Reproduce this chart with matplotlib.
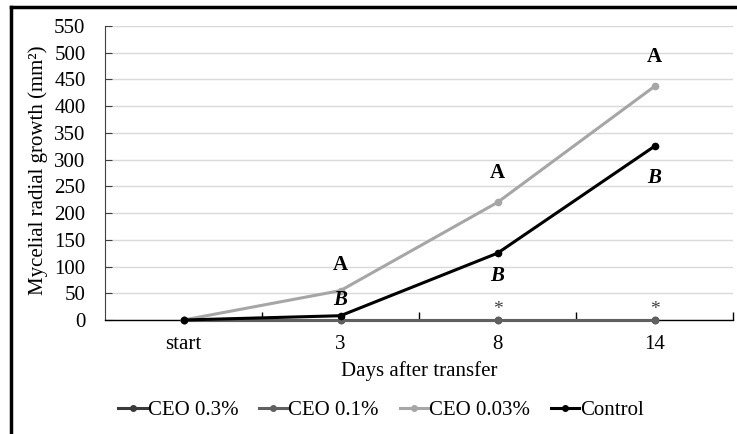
import matplotlib
matplotlib.use("Agg")
import matplotlib.pyplot as plt
from matplotlib.lines import Line2D

plt.rcParams['font.family'] = ['Liberation Serif', 'DejaVu Serif']

categories = ["start", "3", "8", "14"]
ceo_03 = [0, 0, 0, 0]
ceo_01 = [0, 0, 0, 0]
ceo_003 = [0, 55, 220, 437]
control = [0, 8, 125, 325]

series_names = ["CEO 0.3%", "CEO 0.1%", "CEO 0.03%", "Control"]
colors = ["#3a3a3a", "#606060", "#a6a6a6", "#000000"]

# letters: (category index, y value, text, style)
letters = [
    (1, 103, "A", "normal"), (1, 37, "B", "italic"),
    (2, 275, "A", "normal"), (2, 82, "B", "italic"),
    (3, 492, "A", "normal"), (3, 266, "B", "italic"),
]
stars = [(2, 20, "*"), (3, 20, "*")]

FS = 15

fig = plt.figure(figsize=(7.37, 4.34), dpi=100)
ax = fig.add_axes([105/737, 1-320/434, 628/737, 294/434])

x = list(range(len(categories)))
for vals, name, c in zip([ceo_03, ceo_01, ceo_003, control], series_names, colors):
    ax.plot(x, vals, color=c, lw=2.2, marker='o', ms=4.5, label=name, zorder=3,
            clip_on=False)

ax.set_xlim(-0.5, 3.5)
ax.set_ylim(0, 550)
ax.set_yticks(range(0, 551, 50))
ax.set_xticks(x)
ax.set_xticklabels(categories)
ax.set_xticks([0.5, 1.5, 2.5, 3.5], minor=True)
ax.tick_params(axis='x', which='major', length=0, pad=11, labelsize=FS)
ax.tick_params(axis='x', which='minor', length=6, direction='in', color='black', width=1)
ax.tick_params(axis='y', length=5, direction='in', pad=14, labelsize=FS, color='#404040')
ax.grid(axis='y', color='#d9d9d9', lw=1)
ax.set_axisbelow(True)
for s in ['top', 'right']:
    ax.spines[s].set_visible(False)
ax.spines['left'].set_color('#404040')
ax.spines['bottom'].set_color('black')
ax.spines['bottom'].set_linewidth(1)

for ci, yv, t, st in letters:
    ax.text(ci, yv, t, ha='center', va='center', fontsize=FS, fontweight='bold',
            fontstyle=st)
for ci, yv, t in stars:
    ax.text(ci, yv, t, ha='center', va='center', fontsize=14, color='#404040')

ax.set_xlabel("Days after transfer", fontsize=FS, labelpad=5)
fig.text(38/737, 1-170/434, "Mycelial radial growth (mm\u00b2)", rotation=90,
         ha='center', va='center', fontsize=FS)

handles = [Line2D([0], [0], color=c, lw=2.2, marker='o', ms=4) for c in colors]
fig.legend(handles, series_names, loc='center', bbox_to_anchor=(381/737, 1-410/434),
           ncol=4, frameon=False, fontsize=FS, handlelength=1.35, handletextpad=0.05,
           columnspacing=1.0)

fig.add_artist(Line2D([11/737, 11/737], [0, 1-7/434], color='black', lw=2.5,
                      transform=fig.transFigure))
fig.add_artist(Line2D([11/737, 1], [1-7/434, 1-7/434], color='black', lw=2.5,
                      transform=fig.transFigure))

fig.savefig("out.png", dpi=100)
